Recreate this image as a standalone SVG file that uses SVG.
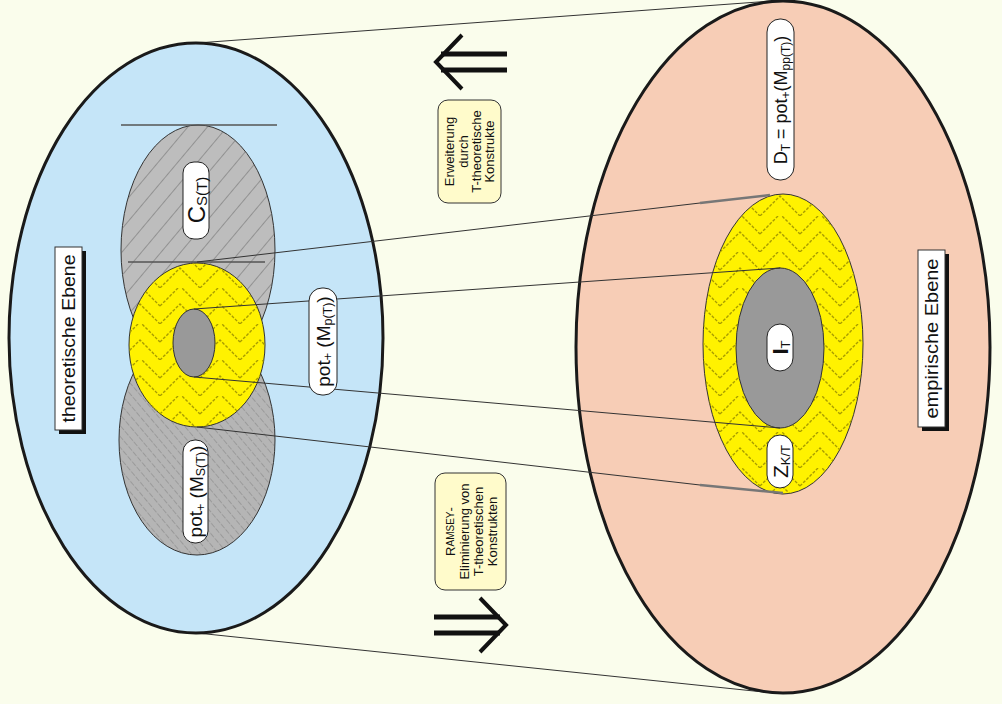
<svg xmlns="http://www.w3.org/2000/svg" width="1002" height="704" viewBox="0 0 1002 704">
<defs>
<style>
.lbl{fill:#fff;stroke:#222;stroke-width:1}
.t{font-family:"Liberation Sans",Arial,sans-serif;fill:#111}
.con{stroke:#333;stroke-width:1;fill:none}
.thick{stroke:#777;stroke-width:2.5;fill:none}
.note{fill:#FFFBCB;stroke:#333;stroke-width:1}
.arr{stroke:#111;fill:none}
</style>
<pattern id="hatchA" width="15" height="15" patternUnits="userSpaceOnUse" patternTransform="rotate(40)">
<line x1="0" y1="0" x2="0" y2="15" stroke="#5a5a5a" stroke-width="1.2" stroke-opacity="0.75"/>
</pattern>
<pattern id="hatchB" width="7" height="7" patternUnits="userSpaceOnUse" patternTransform="rotate(-40)">
<line x1="0" y1="0" x2="0" y2="7" stroke="#6a6a6a" stroke-width="1" stroke-opacity="0.7" stroke-dasharray="3 1.5"/>
</pattern>
<pattern id="zig" width="40" height="36" patternUnits="userSpaceOnUse">
<path d="M0,36 L20,16 L40,36 M0,18 L20,-2 L40,18" stroke="#A89C00" stroke-width="1.4" fill="none" stroke-dasharray="3 1.5"/>
</pattern>
</defs>
<rect width="1002" height="704" fill="#FAFDEC"/>

<g id="connectors-outer">
<line class="con" x1="197" y1="43" x2="772" y2="1"/>
<line class="con" x1="197" y1="633" x2="773" y2="693"/>
</g>

<g id="theoretische-ebene">
<ellipse cx="196" cy="338" rx="187" ry="295" fill="#C5E5F8" stroke="#1a1a1a" stroke-width="3"/>
</g>

<g id="empirische-ebene">
<ellipse cx="783" cy="347" rx="207" ry="346" fill="#F7CDB6" stroke="#1a1a1a" stroke-width="3"/>
</g>

<g id="M-S">
<ellipse cx="197" cy="440" rx="78" ry="115" fill="#B5B5B5" stroke="#333" stroke-width="1"/>
<ellipse cx="197" cy="440" rx="78" ry="115" fill="url(#hatchB)"/>
</g>

<g id="C-S">
<ellipse cx="198" cy="250" rx="77" ry="125" fill="#BDBDBD" stroke="#333" stroke-width="1"/>
<ellipse cx="198" cy="250" rx="77" ry="125" fill="url(#hatchA)"/>
<line x1="121" y1="125" x2="277" y2="125" stroke="#555" stroke-width="1.5"/>
<line x1="128" y1="262" x2="265" y2="262" stroke="#555" stroke-width="1.5"/>
</g>

<g id="M-p">
<ellipse cx="197" cy="345" rx="68" ry="82" fill="#FFF200" stroke="#333" stroke-width="1"/>
<ellipse cx="197" cy="345" rx="68" ry="82" fill="url(#zig)"/>
</g>

<g id="inner-left">
<ellipse cx="194" cy="343" rx="21" ry="34" fill="#999" stroke="#333" stroke-width="1"/>
</g>

<g id="Z-ring">
<ellipse cx="783" cy="344" rx="80" ry="150" fill="#FFF200" stroke="#333" stroke-width="1"/>
<ellipse cx="783" cy="344" rx="80" ry="150" fill="url(#zig)"/>
</g>

<g id="I-T-area">
<ellipse cx="780" cy="348" rx="44" ry="80" fill="#999" stroke="#333" stroke-width="1"/>
</g>

<g id="connectors">
<line class="con" x1="197" y1="262" x2="700" y2="203"/>
<line class="thick" x1="700" y1="203" x2="770" y2="195"/>
<line class="con" x1="194" y1="309" x2="780" y2="268"/>
<line class="con" x1="194" y1="377" x2="780" y2="428"/>
<line class="con" x1="197" y1="427" x2="700" y2="485"/>
<line class="thick" x1="700" y1="485" x2="783" y2="493"/>
</g>

<g id="label-C">
<rect class="lbl" x="183" y="162" width="26" height="77" rx="11"/>
<text class="t" transform="translate(196,200) rotate(-90)" text-anchor="middle" dominant-baseline="central" font-size="24">C<tspan font-size="15" dy="5">S(T)</tspan></text>
</g>

<g id="label-Mp">
<rect class="lbl" x="309" y="288" width="28" height="107" rx="13"/>
<text class="t" transform="translate(323,341.5) rotate(-90)" text-anchor="middle" dominant-baseline="central" font-size="19">pot<tspan font-size="12.5" dy="5">+</tspan><tspan dy="-5"> (M</tspan><tspan font-size="12.5" dy="5">p(T)</tspan><tspan dy="-5">)</tspan></text>
</g>

<g id="label-MS">
<rect class="lbl" x="183" y="440" width="25" height="103" rx="12"/>
<text class="t" transform="translate(195.5,491.5) rotate(-90)" text-anchor="middle" dominant-baseline="central" font-size="19">pot<tspan font-size="12.5" dy="5">+</tspan><tspan dy="-5"> (M</tspan><tspan font-size="12.5" dy="5">S(T)</tspan><tspan dy="-5">)</tspan></text>
</g>

<g id="label-theoretisch">
<rect x="59" y="251" width="27" height="183" fill="#111"/>
<rect x="55" y="247" width="27" height="183" fill="#fff" stroke="#333" stroke-width="1"/>
<text class="t" transform="translate(68.5,338.5) rotate(-90)" text-anchor="middle" dominant-baseline="central" font-size="18" textLength="168" lengthAdjust="spacingAndGlyphs">theoretische  Ebene</text>
</g>

<g id="label-empirisch">
<rect x="922" y="254" width="27" height="177" fill="#111"/>
<rect x="918" y="250" width="27" height="177" fill="#fff" stroke="#333" stroke-width="1"/>
<text class="t" transform="translate(931.5,338.5) rotate(-90)" text-anchor="middle" dominant-baseline="central" font-size="18" textLength="160" lengthAdjust="spacingAndGlyphs">empirische  Ebene</text>
</g>

<g id="label-D">
<rect class="lbl" x="767" y="19" width="27" height="161" rx="13"/>
<text class="t" transform="translate(780.5,100) rotate(-90)" text-anchor="middle" dominant-baseline="central" font-size="18">D<tspan font-size="12" dy="5">T</tspan><tspan dy="-5"> = pot</tspan><tspan font-size="12" dy="5">+</tspan><tspan dy="-5">(M</tspan><tspan font-size="12" dy="5">pp(T)</tspan><tspan dy="-5">)</tspan></text>
</g>

<g id="label-I">
<rect class="lbl" x="767" y="324" width="26" height="47" rx="13"/>
<text class="t" transform="translate(780,347.5) rotate(-90)" text-anchor="middle" dominant-baseline="central" font-size="22" font-weight="bold">I<tspan font-size="13" font-weight="normal" dy="5">T</tspan></text>
</g>

<g id="label-Z">
<rect class="lbl" x="767" y="435" width="26" height="53" rx="13"/>
<text class="t" transform="translate(780,461.5) rotate(-90)" text-anchor="middle" dominant-baseline="central" font-size="21">Z<tspan font-size="13" dy="5">K/T</tspan></text>
</g>

<g id="arrow-top">
<line class="arr" x1="441" y1="54" x2="507" y2="54" stroke-width="5"/>
<line class="arr" x1="441" y1="70" x2="507" y2="70" stroke-width="5"/>
<polyline class="arr" points="462,35 436,62 462,89" stroke-width="4"/>
</g>

<g id="note-top">
<rect class="note" x="438" y="100" width="63" height="103" rx="10"/>
<text class="t" transform="translate(469.5,151.5) rotate(-90)" text-anchor="middle" dominant-baseline="central" font-size="13">
<tspan x="0" y="-20.5">Erweiterung</tspan><tspan x="0" y="-7">durch</tspan><tspan x="0" y="6.5">T-theoretische</tspan><tspan x="0" y="19.5">Konstrukte</tspan></text>
</g>

<g id="note-bottom">
<rect class="note" x="435" y="473" width="71" height="117" rx="10"/>
<text class="t" transform="translate(470.5,531.5) rotate(-90)" text-anchor="middle" dominant-baseline="central" font-size="13">
<tspan x="0" y="-20.5">R<tspan font-size="10">AMSEY</tspan>-</tspan><tspan x="0" y="-7">Eliminierung von</tspan><tspan x="0" y="7">T-theoretischen</tspan><tspan x="0" y="21">Konstrukten</tspan></text>
</g>

<g id="arrow-bottom">
<line class="arr" x1="434" y1="617" x2="500" y2="617" stroke-width="5"/>
<line class="arr" x1="434" y1="633" x2="500" y2="633" stroke-width="5"/>
<polyline class="arr" points="480,598 506,625 480,652" stroke-width="4"/>
</g>
</svg>
